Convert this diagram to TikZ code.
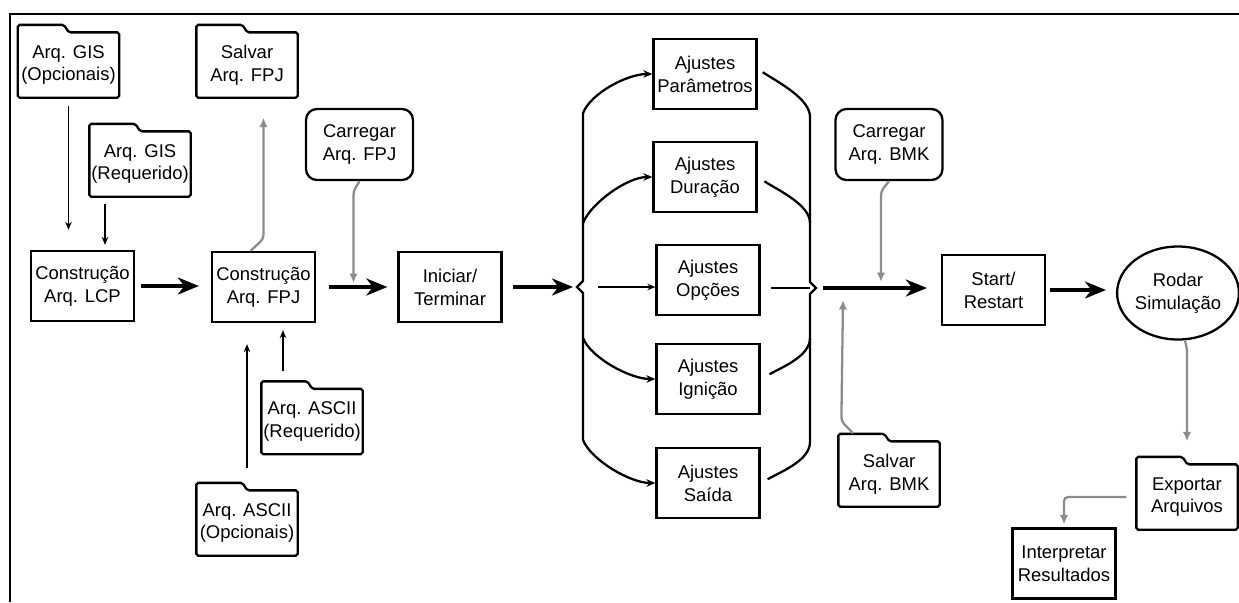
\documentclass[tikz,border=0pt]{standalone}
\usepackage{fontspec}
\setmainfont{Liberation Sans}
\usetikzlibrary{arrows.meta,shapes.geometric}
\definecolor{flowgray}{RGB}{140,140,140}
\begin{document}
\begin{tikzpicture}[x=0.2mm, y=-0.2mm,
	box/.style={draw, line width=1.3pt, minimum width=20.6mm, minimum height=14mm, inner sep=0pt, align=center, font=\fontsize{10.5}{13}\selectfont},
	folder/.style={box, draw=none, minimum width=19.8mm, minimum height=12.6mm,
		append after command={\pgfextra{\draw[line width=1.3pt, rounded corners=1pt]
			(\tikzlastnode.south west) -- ([yshift=1.5mm]\tikzlastnode.north west)
			-- ([xshift=9.2mm, yshift=1.5mm]\tikzlastnode.north west) -- ([xshift=10.2mm]\tikzlastnode.north west)
			-- (\tikzlastnode.north east) -- (\tikzlastnode.south east) -- cycle;}}},
	roundbox/.style={box, minimum width=21.4mm, minimum height=14.2mm, rounded corners=2.2mm},
	oval/.style={box, ellipse, minimum width=23.6mm, minimum height=18.6mm},
	bigarr/.style={-{Stealth[length=4.2mm, width=3.4mm, inset=1.3mm]}, line width=1.9pt},
	thinarr/.style={-{Stealth[length=1.6mm, width=1.3mm]}, line width=0.8pt},
	curvearr/.style={-{Stealth[length=1.8mm, width=1.5mm]}, line width=1.3pt},
	grayarr/.style={-{Latex[length=1.9mm, width=1.7mm]}, line width=1.3pt, flowgray, rounded corners=0.8mm},
	bracket/.style={line width=1.3pt}]
		\useasboundingbox (0,0) rectangle (1239,602);
		\draw[line width=1.4pt] (10,602) -- (10,14) -- (1239,14);
		% Input files
		\node[folder] (gisopc) at (68.5,65) {Arq. GIS\\(Opcionais)};
		\node[folder] (gisreq) at (140,164) {Arq. GIS\\(Requerido)};
		\node[box] (lcp) at (82.5,286) {Construção\\Arq. LCP};
		\node[folder] (sfpj) at (247,65) {Salvar\\Arq. FPJ};
		\node[box] (fpj) at (263.5,287) {Construção\\Arq. FPJ};
		\node[roundbox] (cfpj) at (359.5,144.5) {Carregar\\Arq. FPJ};
		\node[box] (ini) at (450,287) {Iniciar/\\Terminar};
		\node[folder] (asciireq) at (312,421.5) {Arq. ASCII\\(Requerido)};
		\node[folder] (asciiopc) at (247,523) {Arq. ASCII\\(Opcionais)};
		\coordinate (reqfoot) at ([xshift=-7mm]gisreq.south);
		\coordinate (reqhead) at ([xshift=-5.8mm]asciireq.north);
		\coordinate (cfpjend) at (353.5,283);
		\draw[thinarr, shorten <=1.6mm, shorten >=4mm] (gisopc.south) -- (gisopc.south |- lcp.north);
		\draw[thinarr, shorten <=1.4mm, shorten >=1mm] (reqfoot) -- (reqfoot |- lcp.north);
		\draw[thinarr, shorten <=3.6mm, shorten >=1.4mm] (reqhead) -- (reqhead |- fpj.south);
		\draw[thinarr, shorten <=4.4mm, shorten >=4.2mm] (asciiopc.north) -- (asciiopc.north |- fpj.south);
		\draw[grayarr, shorten >=4mm] ([xshift=-2.6mm]fpj.north) -- ([yshift=2.4mm]fpj.north) -- (fpj.north |- sfpj.south);
		\draw[grayarr] (cfpj.south) -- ++(-6,10) -- (cfpjend);
		\draw[bigarr, shorten <=1.2mm, shorten >=2.4mm] (lcp.east) -- (lcp.east -| fpj.west);
		\draw[bigarr, shorten <=2.6mm, shorten >=2mm] (fpj.east) -- (ini.west);
		% Settings
		\node[box] (param) at (705,74) {Ajustes\\Parâmetros};
		\node[box] (dur) at (705,177) {Ajustes\\Duração};
		\node[box] (opc) at (708,280) {Ajustes\\Opções};
		\node[box] (ign) at (708,379) {Ajustes\\Ignição};
		\node[box] (sai) at (708,483) {Ajustes\\Saída};
		\coordinate (lbtop) at (583,113);
		\coordinate (lbup) at (583,223);
		\coordinate (lb) at (583,287);
		\coordinate (lbdown) at (583,338);
		\coordinate (lbbot) at (583,440);
		\coordinate (rbtop) at (810,117);
		\coordinate (rbup) at (810,223);
		\coordinate (rb) at (810,288);
		\coordinate (rbdown) at (810,338);
		\coordinate (rbbot) at (810,442);
		\draw[bigarr, shorten <=2mm, shorten >=2mm] (ini.east) -- (lb);
		\draw[bracket] (lbtop) -- ([yshift=1.2mm]lb) -- ([xshift=-1.2mm]lb) -- ([yshift=-1.2mm]lb) -- (lbbot);
		\draw[curvearr] (lbtop) .. controls +(8,-20) and +(-25,0) .. (param.west);
		\draw[curvearr] (lbup) .. controls +(8,-20) and +(-25,0) .. (dur.west);
		\draw[curvearr] (lbdown) .. controls +(8,20) and +(-25,0) .. (ign.west);
		\draw[curvearr] (lbbot) .. controls +(8,20) and +(-25,0) .. (sai.west);
		\draw[thinarr, line width=1pt, shorten <=3mm] (lb) -- (lb -| opc.west);
		\draw[bracket] (rbtop) -- ([yshift=1.2mm]rb) -- ([xshift=1.2mm]rb) -- ([yshift=-1.2mm]rb) -- (rbbot);
		\draw[bracket, shorten <=1.2mm] ([yshift=1mm]param.east) .. controls +(22,14) and +(0,-18) .. (rbtop);
		\draw[bracket, shorten <=1.6mm] (dur.east) .. controls +(22,14) and +(0,-18) .. (rbup);
		\draw[bracket, shorten <=2mm] (ign.east) .. controls +(22,-12) and +(0,18) .. (rbdown);
		\draw[bracket, shorten <=1.6mm] (sai.east) .. controls +(22,-12) and +(0,18) .. (rbbot);
		\draw[line width=1pt, shorten <=2mm] (rb -| opc.east) -- (rb);
		% Simulation
		\node[roundbox] (cbmk) at (889,144.5) {Carregar\\Arq. BMK};
		\node[folder] (sbmk) at (889,474) {Salvar\\Arq. BMK};
		\node[box] (start) at (993.5,290) {Start/\\Restart};
		\node[oval] (rodar) at (1178,293) {Rodar\\Simulação};
		\node[folder] (exp) at (1187,497) {Exportar\\Arquivos};
		\node[box] (interp) at (1064,563.5) {Interpretar\\Resultados};
		\coordinate (cbmkend) at (881,282);
		\coordinate (sbmkend) at (843,300);
		\draw[bigarr, shorten <=2.6mm, shorten >=2.8mm] (rb) -- (rb -| start.west);
		\draw[grayarr] (cbmk.south) -- ++(-8,10) -- (cbmkend);
		\draw[grayarr] ([shift={(3mm,1.6mm)}]sbmk.north west) -- ([shift={(0.6mm,4mm)}]sbmk.north west) -- (sbmkend);
		\draw[bigarr, shorten <=0.8mm, shorten >=2mm] (start.east) -- (start.east -| rodar.west);
		\draw[grayarr, shorten >=4.6mm] ([xshift=1.4mm]rodar.south) -- ++(2,8) -- (exp.north);
		\draw[grayarr, shorten <=2mm, shorten >=0.6mm] (exp.west) -| (interp.north);
	\end{tikzpicture}
\end{document}
